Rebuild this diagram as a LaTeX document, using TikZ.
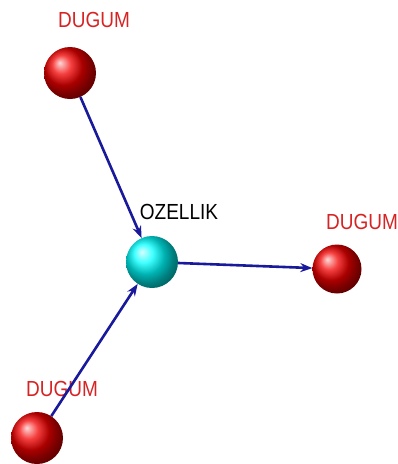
\documentclass[tikz,border=0pt]{standalone}
\usepackage{fontspec}
\setmainfont{Liberation Sans}
\usetikzlibrary{arrows.meta}
\definecolor{edgeblue}{RGB}{25,25,155}
\definecolor{lblred}{RGB}{215,35,35}
\newcommand{\tallt}[1]{\scalebox{1}[1.15]{#1}}
\tikzset{
  node/.style={circle, minimum size=52pt, inner sep=0pt, ball color=red!95!black, draw=none},
  prop/.style={circle, minimum size=52pt, inner sep=0pt, ball color=cyan, draw=none},
  lbl/.style={text=lblred, font=\fontsize{19}{19}\selectfont, inner sep=0pt},
  plbl/.style={text=black, font=\fontsize{19}{19}\selectfont, inner sep=0pt},
  conn/.style={draw=edgeblue, line width=2.6pt, -{Stealth[length=12pt,width=9pt]}}
}
\begin{document}
\begin{tikzpicture}[x=1pt,y=-1pt]
\useasboundingbox (0,0) rectangle (397,464);
\node[node] (n1) at (70,73) {};
\node[node, minimum size=49pt] (n2) at (337,269) {};
\node[node] (n3) at (37,438) {};
\node[prop] (p) at (152,262) {};
\node[lbl] (l1) at (94,20) {\tallt{DUGUM}};
\node[lbl] (l2) at (362,222) {\tallt{DUGUM}};
\node[lbl] (l3) at (62,389) {\tallt{DUGUM}};
\node[plbl] (lp) at (179,212) {\tallt{OZELLIK}};
\draw[conn] (n1) -- (p);
\draw[conn] (p) -- (n2);
\draw[conn] (n3) -- (p);
\end{tikzpicture}
\end{document}
